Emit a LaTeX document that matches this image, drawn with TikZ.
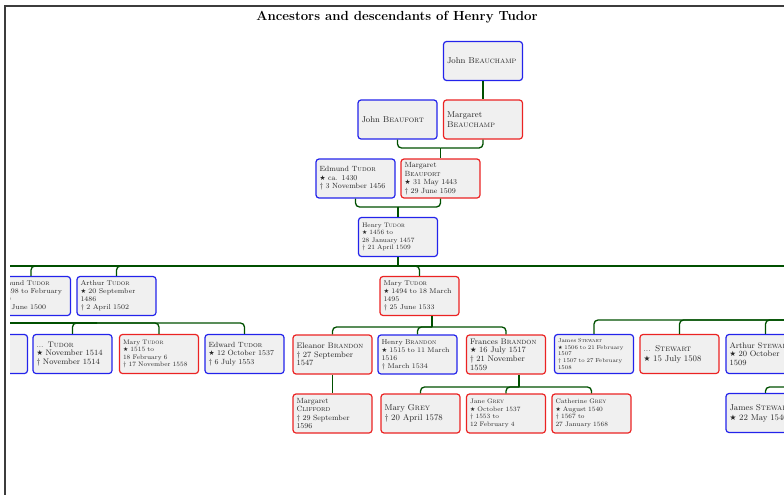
\documentclass[tikz,border=0pt]{standalone}
\usepackage{fontspec}
\newfontfamily\symfont{DejaVu Sans}
\usetikzlibrary{positioning}
\definecolor{gtBlue}  {RGB}{ 35, 35,235}
\definecolor{gtRed}   {RGB}{235, 35, 35}
\definecolor{gtFill}  {RGB}{240,240,240}
\definecolor{gtGreen} {RGB}{  0, 80,  0}
\definecolor{gtFrame} {RGB}{ 60, 60, 60}
\newcommand\gborn{{\symfont\scalebox{0.9}{★}}}
\newcommand\gdied{\textdagger}

\begin{document}
\begin{tikzpicture}[x=1pt,y=-1pt,
  every node/.style={font=\fontsize{7.5}{8.5}\selectfont},
  person/.style ={fill=gtFill,line width=1.2pt,rounded corners=3pt,
                  text width=72pt,minimum height=39pt,align=left,
                  inner xsep=3.5pt,inner ysep=2pt,text=black!85},
  male/.style   ={person,draw=gtBlue},
  female/.style ={person,draw=gtRed},
  fbig/.style   ={font=\fontsize{8.5}{10}\selectfont},
  fmid/.style   ={font=\fontsize{8}{8.7}\selectfont},
  fsmall/.style ={font=\fontsize{7}{8}\selectfont},
  fsmaller/.style={font=\fontsize{6.5}{7.6}\selectfont},
  ftiny/.style  ={font=\fontsize{5.6}{6.6}\selectfont},
  famline/.style={draw=gtGreen,line width=1.3pt,rounded corners=4pt}
]
\useasboundingbox (0,0) rectangle (784,495);
\draw[gtFrame,line width=2pt] (4,6) -- (784,6);
\draw[gtFrame,line width=2pt] (5,6) -- (5,495);
\node[font=\fontsize{13.2}{15}\selectfont\bfseries] (title) at (397,17) {Ancestors and descendants of Henry Tudor};

\begin{scope}
\clip (10,7) rectangle (784,495);
% ancestors
\node[male,fbig]   (jbeauchamp) at (483,61)      {John \textsc{Beauchamp}};
\node[male,fbig]   (jbeaufort)  at (397.5,119.5) {John \textsc{Beaufort}};
\node[female,fbig] (mbeauchamp) at (483,119.5)   {Margaret\\\textsc{Beauchamp}};
\node[male]   (etudor)     at (355.5,178.5) {Edmund \textsc{Tudor}\\\gborn{} ca. 1430\\\gdied{} 3 November 1456};
\node[female] (mbeaufort)  at (440.5,178.5) {Margaret\\\textsc{Beaufort}\\\gborn{} 31 May 1443\\\gdied{} 29 June 1509};
\node[male,fsmaller] (htudor) at (398,237) {Henry \textsc{Tudor}\\\gborn{} 1456 to\\28 January 1457\\\gdied{} 21 April 1509};
% children
\node[male,fsmall]   (edtudor) at (31,296)    {Edmund \textsc{Tudor}\\\gborn{} 1498 to February\\1499\\\gdied{} 19 June 1500};
\node[male,fsmall]   (atudor)  at (116.5,296) {Arthur \textsc{Tudor}\\\gborn{} 20 September\\1486\\\gdied{} 2 April 1502};
\node[female,fsmall] (mtudor)  at (419.5,296) {Mary \textsc{Tudor}\\\gborn{} 1494 to 18 March\\1495\\\gdied{} 25 June 1533};
% grandchildren
\node[male,ftiny]      (hdcornwall) at (-12,354)  {Henry \textsc{Tudor}\\\gborn{} 1 January\\1511\\\gdied{} 22 February\\1511};
\node[male,fmid]       (xtudor)     at (72.5,354) {... \textsc{Tudor}\\\gborn{} November 1514\\\gdied{} November 1514};
\node[female,fsmaller] (marytudor)  at (159,354)  {Mary \textsc{Tudor}\\\gborn{} 1515 to\\18 February 6\\\gdied{} 17 November 1558};
\node[male]            (edwtudor)   at (244.5,354) {Edward \textsc{Tudor}\\\gborn{} 12 October 1537\\\gdied{} 6 July 1553};
\node[female,fmid]     (eleanor)    at (332.5,354.5) {Eleanor \textsc{Brandon}\\\gdied{} 27 September\\1547};
\node[male,fsmall]     (hbrandon)   at (417.5,354.5) {Henry \textsc{Brandon}\\\gborn{} 1515 to 11 March\\1516\\\gdied{} March 1534};
\node[female,fmid]     (frances)    at (506,354.5)   {Frances \textsc{Brandon}\\\gborn{} 16 July 1517\\\gdied{} 21 November\\1559};
\node[male,ftiny]      (jstewart)   at (594,354)   {James \textsc{Stewart}\\\gborn{} 1506 to 21 February\\1507\\\gdied{} 1507 to 27 February\\1508};
\node[female,fbig]     (xstewart)   at (679.5,354) {... \textsc{Stewart}\\\gborn{} 15 July 1508};
\node[male,fmid]       (astewart)   at (765.5,354) {Arthur \textsc{Stewart}\\\gborn{} 20 October\\1509};
% great-grandchildren
\node[female]          (mclifford) at (332.5,413.5) {Margaret\\\textsc{Clifford}\\\gdied{} 29 September\\1596};
\node[female,fbig]     (mgrey)     at (420.5,413.5) {Mary \textsc{Grey}\\\gdied{} 20 April 1578};
\node[female,fsmaller] (jgrey)     at (506,413.5)   {Jane \textsc{Grey}\\\gborn{} October 1537\\\gdied{} 1553 to\\12 February 4};
\node[female,fsmaller] (cgrey)     at (591.5,413.5) {Catherine \textsc{Grey}\\\gborn{} August 1540\\\gdied{} 1567 to\\27 January 1568};
\node[male,fbig]       (jstewartb) at (765.5,413)   {James \textsc{Stewart}\\\gborn{} 22 May 1540};

% family junctions
\coordinate (famA)  at (440.5,148);
\coordinate (famB)  at (398,207);
\coordinate (famC)  at (398,266);
\coordinate (famCl) at (-100,266);
\coordinate (famCr) at (800,266);
\coordinate (famD)  at (97,323);
\coordinate (famDl) at (-100,323);
\coordinate (famE)  at (432,327);
\coordinate (famF)  at (519,387);
\coordinate (famG)  at (800,320);
\coordinate (famH)  at (800,387);

\draw[famline] (jbeauchamp) -- (mbeauchamp);
\foreach \p in {jbeaufort,mbeauchamp} \draw[famline] (\p.south) |- (famA);
\draw[famline] (famA) -- (mbeaufort);
\foreach \p in {etudor,mbeaufort} \draw[famline] (\p.south) |- (famB);
\draw[famline] (famB) -- (htudor);
\draw[famline] (htudor) -- (famC);
\draw[famline] (famCl) -- (famCr);
\foreach \c in {edtudor,atudor,mtudor} \draw[famline] (famC) -| (\c.north);
\draw[famline] (famDl) -- (famD);
\foreach \c in {hdcornwall,xtudor,marytudor,edwtudor} \draw[famline] (famD) -| (\c.north);
\draw[famline] (mtudor.south -| famE) -- (famE);
\foreach \c in {eleanor,hbrandon,frances} \draw[famline] (famE) -| (\c.north);
\draw[famline] (eleanor) -- (mclifford);
\draw[famline] (frances.south -| famF) -- (famF);
\foreach \c in {mgrey,jgrey,cgrey} \draw[famline] (famF) -| (\c.north);
\foreach \c in {jstewart,xstewart,astewart} \draw[famline] (famG) -| (\c.north);
\draw[famline] (famH) -| (jstewartb.north);
\end{scope}
\end{tikzpicture}
\end{document}
